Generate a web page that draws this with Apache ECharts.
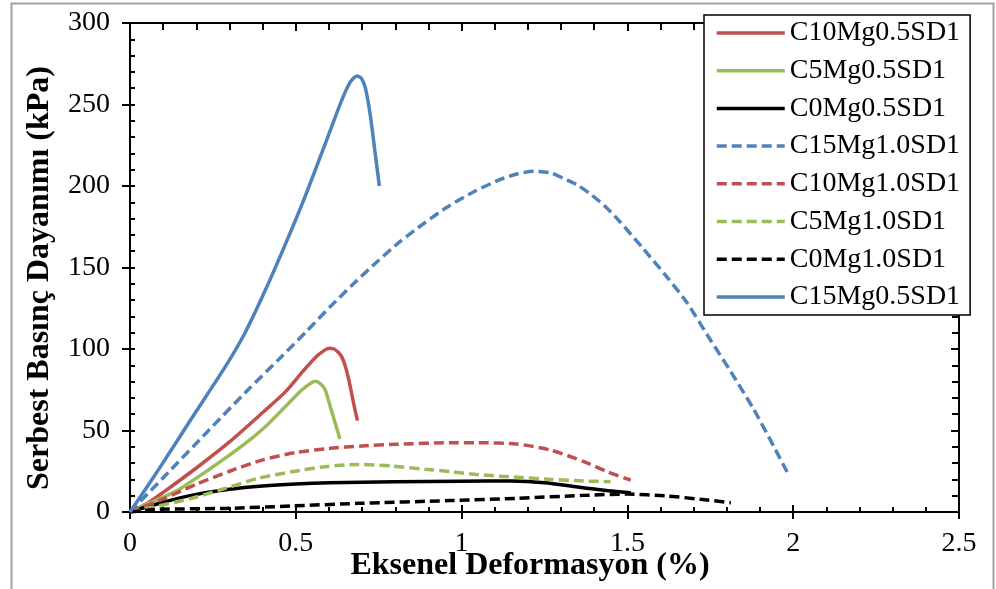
<!DOCTYPE html>
<html>
<head>
<meta charset="utf-8">
<script src="https://cdn.jsdelivr.net/npm/echarts@6/dist/echarts.min.js"></script>
<style>
  html, body { margin: 0; padding: 0; background: #fff; }
  #chart { width: 996px; height: 589px; }
</style>
</head>
<body>
<div id="chart"></div>
<script>
// Axis ranges
const xMin = 0, xMax = 2.5, xStep = 0.5;
const yMin = 0, yMax = 300, yStep = 50;

// Stress–strain curves: [axial strain (%), unconfined compressive strength (kPa)]
const c10Mg05 = [[0,0],[0.05,5],[0.1,12],[0.2,27],[0.3,43],[0.4,61],[0.47,74],[0.52,86],[0.56,95],[0.585,99],[0.6,100.4],[0.615,100],[0.628,98],[0.639,95],[0.65,89],[0.66,81],[0.674,67],[0.686,56]];
const c5Mg05 = [[0,0],[0.045,4.3],[0.136,12.5],[0.236,25.8],[0.347,42],[0.408,52.3],[0.468,64.6],[0.518,74.8],[0.545,79],[0.559,80.2],[0.575,78.5],[0.589,74.8],[0.604,64.6],[0.619,54.4],[0.633,44.8]];
const c0Mg05 = [[0,0],[0.1,6],[0.2,10.8],[0.3,14],[0.4,16],[0.5,17.2],[0.6,17.9],[0.8,18.5],[1.0,18.9],[1.15,19],[1.25,18],[1.35,15.3],[1.43,13.3],[1.51,11.8]];
const c15Mg10 = [[0,0],[0.1,21],[0.237,50],[0.356,75],[0.458,95.5],[0.533,111],[0.604,126],[0.674,140],[0.745,153.5],[0.815,166],[0.886,177],[0.956,187],[1.037,196.5],[1.117,204],[1.17,207.5],[1.218,209],[1.27,208],[1.308,204.5],[1.35,200.5],[1.389,195],[1.43,188],[1.469,180],[1.55,161],[1.62,144],[1.681,128],[1.741,108.6],[1.812,86],[1.882,62.6],[1.942,40],[1.983,24]];
const c10Mg10 = [[0,0],[0.1,8],[0.2,17],[0.3,25],[0.4,32],[0.5,36.5],[0.6,39],[0.7,40.5],[0.8,41.5],[0.966,42.5],[1.042,42.5],[1.167,41.7],[1.268,38],[1.369,30.9],[1.439,24.7],[1.51,19.6]];
const c5Mg10 = [[0,0],[0.086,3.7],[0.186,8.4],[0.287,14.5],[0.387,20.7],[0.488,24.7],[0.589,27.8],[0.689,29.2],[0.79,28.2],[0.89,26.2],[0.966,24.8],[1.05,22.9],[1.167,21.3],[1.268,20],[1.369,19],[1.449,18.6]];
const c0Mg10 = [[0,0],[0.086,1.6],[0.287,2.2],[0.488,3.7],[0.689,5.3],[0.966,7],[1.167,8.4],[1.369,10.2],[1.5,11],[1.62,9.8],[1.72,7.8],[1.812,5.7]];
const c15Mg05 = [[0,0],[0.086,26],[0.186,57.5],[0.287,89],[0.347,110],[0.408,136],[0.468,164],[0.528,193.5],[0.589,226],[0.639,252.8],[0.665,264],[0.684,267.5],[0.698,266],[0.71,260],[0.725,243],[0.74,219],[0.752,200]];

const seriesNames = ['C10Mg0.5SD1','C5Mg0.5SD1','C0Mg0.5SD1','C15Mg1.0SD1','C10Mg1.0SD1','C5Mg1.0SD1','C0Mg1.0SD1','C15Mg0.5SD1'];
const seriesData = [c10Mg05, c5Mg05, c0Mg05, c15Mg10, c10Mg10, c5Mg10, c0Mg10, c15Mg05];
const seriesColors = ['#C0504D','#9BBB59','#000000','#4F81BD','#C0504D','#9BBB59','#000000','#4F81BD'];
const seriesDashed = [false,false,false,true,true,true,true,false];

const xTitle = 'Eksenel Deformasyon (%)';
const yTitle = 'Serbest Basınç Dayanımı (kPa)';

const FONT = '"Liberation Serif", "Times New Roman", serif';

const lineBlack = { color: '#000', width: 2 };

function xAx(extra) {
  return Object.assign({
    type: 'value', min: xMin, max: xMax, interval: xStep,
    splitLine: { show: false },
    axisLine: { show: true, onZero: false, lineStyle: lineBlack },
    axisLabel: { show: false },
    axisTick: { show: false },
    minorTick: { show: false }
  }, extra);
}
function yAx(extra) {
  return Object.assign({
    type: 'value', min: yMin, max: yMax, interval: yStep,
    splitLine: { show: false },
    axisLine: { show: true, onZero: false, lineStyle: lineBlack },
    axisLabel: { show: false },
    axisTick: { show: false },
    minorTick: { show: false }
  }, extra);
}

const chart = echarts.init(document.getElementById('chart'), null, { renderer: 'canvas' });

chart.setOption({
  animation: false,
  backgroundColor: '#fff',
  grid: { left: 130, right: 37, top: 23, bottom: 77, containLabel: false },
  xAxis: [
    xAx({ position: 'bottom',
      axisLabel: { show: true, margin: 18, color: '#000', fontFamily: FONT, fontSize: 28 },
      axisTick: { show: true, inside: false, length: 7, lineStyle: lineBlack } }),
    xAx({ position: 'bottom', axisLine: { show: false },
      axisTick: { show: true, inside: true, length: 7, lineStyle: lineBlack },
      minorTick: { show: true, splitNumber: 5, length: 5, lineStyle: { color: '#000', width: 2 } } }),
    xAx({ position: 'top',
      axisTick: { show: true, inside: true, length: 8, lineStyle: lineBlack },
      minorTick: { show: true, splitNumber: 5, length: 7, lineStyle: { color: '#000', width: 2 } } }),
    xAx({ position: 'top', axisLine: { show: false },
      axisTick: { show: true, inside: false, length: 3, lineStyle: lineBlack } })
  ],
  yAxis: [
    yAx({ position: 'left',
      axisLabel: { show: true, margin: 20, color: '#000', fontFamily: FONT, fontSize: 28 },
      axisTick: { show: true, inside: false, length: 8, lineStyle: lineBlack } }),
    yAx({ position: 'left', axisLine: { show: false },
      axisTick: { show: true, inside: true, length: 5, lineStyle: lineBlack },
      minorTick: { show: true, splitNumber: 5, length: 5, lineStyle: { color: '#000', width: 2 } } }),
    yAx({ position: 'right',
      axisTick: { show: true, inside: true, length: 8, lineStyle: lineBlack },
      minorTick: { show: true, splitNumber: 5, length: 7, lineStyle: { color: '#000', width: 2 } } })
  ],
  legend: {
    orient: 'vertical',
    left: 704, top: 15,
    padding: [4, 10, 4, 11],
    itemGap: 9.7,
    itemWidth: 68, itemHeight: 14,
    backgroundColor: '#fff',
    borderColor: '#000', borderWidth: 1.5,
    itemStyle: { opacity: 0, color: 'rgba(0,0,0,0)', borderWidth: 0 },
    lineStyle: { width: 3.5 },
    textStyle: { color: '#000', fontFamily: FONT, fontSize: 28, padding: [0, 0, 0, 0] },
    data: seriesNames
  },
  series: seriesNames.map((name, i) => ({
    name: name,
    type: 'line',
    xAxisIndex: 0, yAxisIndex: 0,
    data: seriesData[i],
    showSymbol: false, symbol: 'none',
    smooth: 0.25,
    color: seriesColors[i],
    lineStyle: { color: seriesColors[i], width: 3.5, type: seriesDashed[i] ? [10, 5] : 'solid' },
    z: 2
  })),
  graphic: [
    { type: 'rect', silent: true, z: -1,
      shape: { x: 11.5, y: 3.5, width: 982, height: 600 },
      style: { fill: 'none', stroke: '#A0A0A0', lineWidth: 2 } },
    { type: 'text', x: 40, y: 278, rotation: Math.PI / 2,
      style: { text: yTitle, font: 'bold 32px ' + FONT, fill: '#000', textAlign: 'center', textVerticalAlign: 'middle' } },
    { type: 'text', x: 530, y: 566,
      style: { text: xTitle, font: 'bold 32px ' + FONT, fill: '#000', textAlign: 'center', textVerticalAlign: 'middle' } }
  ]
});
</script>
</body>
</html>
